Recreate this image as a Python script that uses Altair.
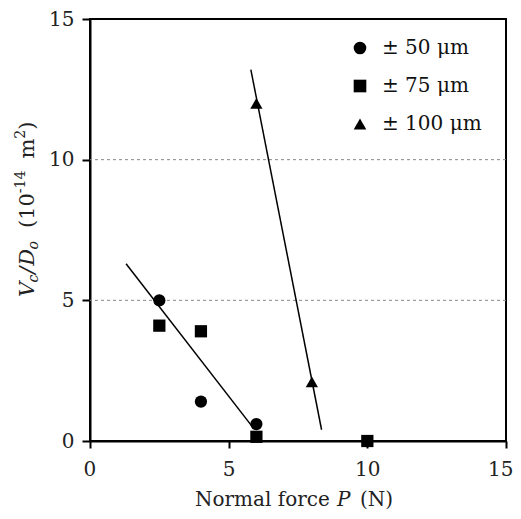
import altair as alt
import pandas as pd

# ---- data ----
series_labels = ["± 50 μm", "± 75 μm", "± 100 μm"]
circle_x = [2.5, 4.0, 6.0]
circle_y = [5.0, 1.4, 0.6]
square_x = [2.5, 4.0, 6.0, 10.0]
square_y = [4.1, 3.9, 0.15, 0.0]
tri_x = [6.0, 8.0]
tri_y = [12.0, 2.1]
fit1_x = [1.3, 5.9]
fit1_y = [6.3, 0.45]
fit2_x = [5.8, 8.35]
fit2_y = [13.2, 0.4]
grid_y = [5, 10]
tick_vals = [0, 5, 10, 15]

FONT = "DejaVu Serif"
TOP = 19          # page y of the plot's top edge
W, H = 416, 422

rows = []
for s, xs, ys in zip(series_labels, [circle_x, square_x, tri_x], [circle_y, square_y, tri_y]):
    for a, b in zip(xs, ys):
        rows.append({"P": a, "V": b, "series": s})
pts = pd.DataFrame(rows)

lines = pd.DataFrame(
    [{"P": a, "V": b, "fit": "a"} for a, b in zip(fit1_x, fit1_y)]
    + [{"P": a, "V": b, "fit": "b"} for a, b in zip(fit2_x, fit2_y)]
)

xscale = alt.Scale(domain=[0, 15], nice=False, zero=False)
yscale = alt.Scale(domain=[0, 15], nice=False, zero=False)

xaxis = alt.Axis(values=tick_vals, title=None, grid=False, tickSize=7, tickWidth=2,
                 tickColor="black", domainColor="black", domainWidth=2,
                 labelFont=FONT, labelFontSize=20, labelColor="#222", labelPadding=11,
                 labelFlush=True, labelFlushOffset=7, format="d")
yaxis = alt.Axis(values=tick_vals, title=None, grid=False, tickSize=8, tickWidth=2,
                 tickColor="black", domainColor="black", domainWidth=2,
                 labelFont=FONT, labelFontSize=20, labelColor="#222", labelPadding=8,
                 labelFlush=False, format="d")

grid = alt.Chart(pd.DataFrame({"g": grid_y})).mark_rule(
    color="#888", strokeDash=[3, 3], strokeWidth=1
).encode(y=alt.Y("g:Q", scale=yscale, axis=yaxis))

fits = alt.Chart(lines).mark_line(color="black", strokeWidth=1.5).encode(
    x=alt.X("P:Q", scale=xscale, axis=xaxis),
    y=alt.Y("V:Q", scale=yscale, axis=yaxis),
    detail="fit:N",
)

points = alt.Chart(pts).mark_point(filled=True, opacity=1, color="black", size=150).encode(
    x=alt.X("P:Q", scale=xscale, axis=xaxis),
    y=alt.Y("V:Q", scale=yscale, axis=yaxis),
    shape=alt.Shape(
        "series:N",
        scale=alt.Scale(domain=series_labels, range=["circle", "square", "triangle-up"]),
        sort=series_labels,
        legend=alt.Legend(
            title=None, orient="none", legendX=260, legendY=19,
            labelFont=FONT, labelFontSize=20, labelColor="#111",
            symbolFillColor="black", symbolStrokeColor="black", symbolSize=160,
            symbolStrokeWidth=0, labelOffset=12, rowPadding=18, padding=0,
        ),
    ),
)

# ---- x-axis title: "Normal force  P (N)" ----
xt = [("Normal force", "normal", 105), ("P", "italic", 247), ("(N)", "normal", 270)]
xtitle = alt.layer(*[
    alt.Chart(pd.DataFrame({"t": [t]})).mark_text(
        font=FONT, fontSize=20, fontStyle=st, align="left", baseline="alphabetic", color="#222"
    ).encode(text="t:N", x=alt.value(px), y=alt.value(506 - TOP))
    for t, st, px in xt
])

# ---- y-axis title: V_c/D_o (10^-14 m^2), rotated ----
MAIN, SMALL = 21, 14
pieces = [
    ("V", MAIN, "italic", 0, 688, 0),
    ("c", SMALL, "italic", 4, 560, 1),
    ("/", MAIN, "italic", 0, 337, 1),
    ("D", MAIN, "italic", 0, 770, 0),
    ("o", SMALL, "italic", 4, 602, 13),
    ("(10", MAIN, "normal", 0, 1662, 0),
    ("-14", SMALL, "normal", -9, 1610, 12),
    ("m", MAIN, "normal", 0, 947, 0),
    ("2", SMALL, "normal", -9, 636, 0),
    (")", MAIN, "normal", 0, 390, 0),
]
base_x = 34 - 90
cur = 297 - TOP
ylayers = []
for t, fs, st, shift, wid, gap in pieces:
    ylayers.append(
        alt.Chart(pd.DataFrame({"t": [t]})).mark_text(
            font=FONT, fontSize=fs, fontStyle=st, align="left", baseline="alphabetic",
            angle=270, color="#222"
        ).encode(text="t:N", x=alt.value(base_x + shift), y=alt.value(cur))
    )
    cur -= wid * fs / 1000 + gap
ytitle = alt.layer(*ylayers)

chart = alt.layer(grid, fits, points, xtitle, ytitle).properties(
    width=W, height=H,
    background="white",
    autosize=alt.AutoSizeParams(type="none"),
    padding={"left": 82, "top": TOP - 8, "right": 7, "bottom": 70},
).configure_view(stroke="black", strokeWidth=2)

chart.save("out.html", embed_options={"renderer": "svg", "actions": False})
